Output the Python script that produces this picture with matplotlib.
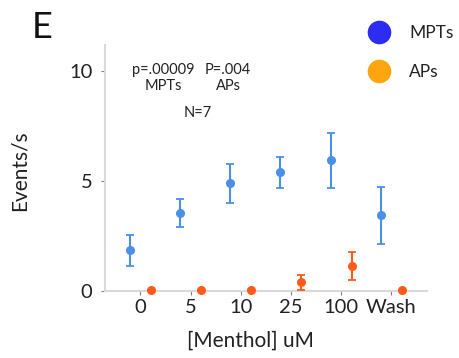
import matplotlib.pyplot as plt
from matplotlib.lines import Line2D

plt.rcParams['font.family'] = ['Lato', 'DejaVu Sans']

# 資料
conditions = ["0", "5", "10", "25", "100", "Wash"]
mpt_mean = [1.85, 3.55, 4.9, 5.4, 5.95, 3.45]
mpt_err = [0.7, 0.65, 0.87, 0.72, 1.25, 1.3]
ap_mean = [0.05, 0.05, 0.05, 0.4, 1.14, 0.05]
ap_err = [0, 0, 0, 0.35, 0.65, 0]

fig = plt.figure(figsize=(4.6, 3.58), dpi=100)
ax = fig.add_axes([0.228, 0.187, 0.700, 0.687])

x = list(range(len(conditions)))
x_mpt = [i - 0.21 for i in x]
x_ap = [i + 0.21 for i in x]

ax.errorbar(x_mpt, mpt_mean, yerr=mpt_err, fmt='o', color='#4a90e8',
            ms=5.5, elinewidth=1.5, capsize=3, capthick=1.3, clip_on=False, zorder=3)
ax.errorbar(x_ap, ap_mean, yerr=ap_err, fmt='o', color='#ff5a1a',
            ms=5.5, elinewidth=1.5, capsize=3, capthick=1.3, clip_on=False, zorder=3)

ax.set_xlim(-0.707, 5.71)
ax.set_ylim(0, 11.2)
ax.set_xticks(x)
ax.set_xticklabels(conditions)
ax.set_yticks([0, 5, 10])

for s in ['top', 'right']:
    ax.spines[s].set_visible(False)
for s in ['left', 'bottom']:
    ax.spines[s].set_color('#d9d9d9')
    ax.spines[s].set_linewidth(1.5)
ax.tick_params(axis='both', length=3, color='#808080', labelsize=14.5, colors='#222222')
ax.tick_params(axis='x', pad=3)
ax.tick_params(axis='y', pad=6)

ax.set_ylabel("Events/s", fontsize=15, color='#222222')
ax.yaxis.set_label_coords(-0.235, 0.49)
ax.set_xlabel("[Menthol] uM", fontsize=15, color='#222222')
ax.xaxis.set_label_coords(0.453, -0.16)

# 註解文字
fig.text(163 / 460, 1 - 70 / 358, "p=.00009", fontsize=10.5, ha='center', va='center', color='#222222')
fig.text(163 / 460, 1 - 86 / 358, "MPTs", fontsize=10.5, ha='center', va='center', color='#222222')
fig.text(228 / 460, 1 - 70 / 358, "P=.004", fontsize=10.5, ha='center', va='center', color='#222222')
fig.text(228 / 460, 1 - 86 / 358, "APs", fontsize=10.5, ha='center', va='center', color='#222222')
fig.text(198 / 460, 1 - 113 / 358, "N=7", fontsize=10.5, ha='center', va='center', color='#222222')

fig.text(32 / 460, 1 - 27 / 358, "E", fontsize=26, ha='left', va='center', color='#111111')

# 圖例
handles = [Line2D([], [], ls='none', marker='o', ms=17, color='#2c2cf5', mec='none'),
           Line2D([], [], ls='none', marker='o', ms=17, color='#ffa50f', mec='none')]
fig.legend(handles, ["MPTs", "APs"], loc='upper left', bbox_to_anchor=(353 / 460, 1 - 16 / 358),
           frameon=False, fontsize=12.5, handlelength=2.0, handletextpad=0.75,
           labelspacing=1.35, borderpad=0, labelcolor='#222222')

fig.savefig("out.png", dpi=100)
